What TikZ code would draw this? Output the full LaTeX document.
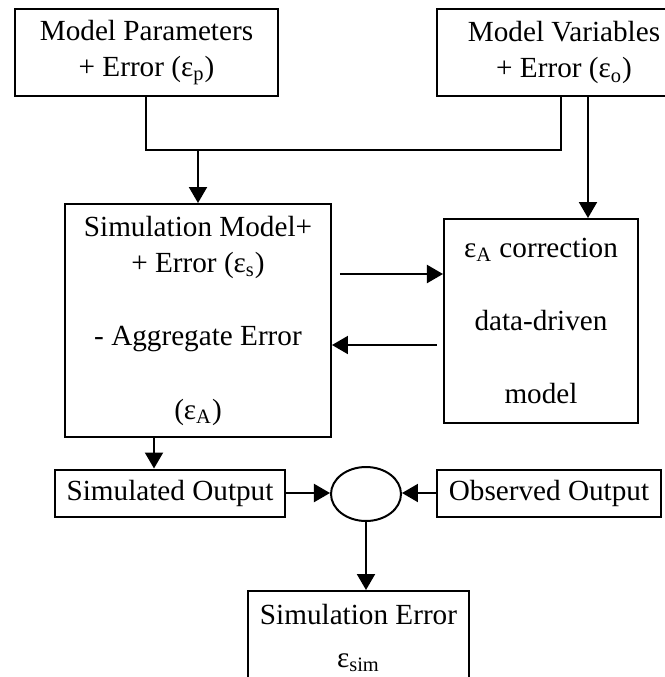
\documentclass[tikz,border=0pt]{standalone}
\usepackage{fontspec}
\setmainfont{Liberation Serif}
\usetikzlibrary{arrows.meta, positioning, shapes.geometric}
\tikzset{
  every picture/.style={line width=1pt},
  box/.style={draw=black, align=center, inner sep=0pt, font=\fontsize{14.6}{18.3}\selectfont},
  arrow/.style={-{Triangle[length=8pt, width=9pt]}, draw=black},
}
\newcommand{\eps}[1]{ε\textsubscript{#1}}

\begin{document}
\begin{tikzpicture}[x=0.5pt, y=-0.5pt,
  top/.style={box, minimum width=#1, minimum height=43.5pt},
  io/.style={box, minimum width=#1, minimum height=23.5pt},
  sum/.style={draw=black, ellipse, inner sep=0pt, minimum width=35pt, minimum height=27pt}]
  \useasboundingbox (0,0) rectangle (665,677);
  \node[top=131.5pt] (mp) at (146.5,52.5) {Model Parameters\\+ Error (\eps{p})};
  \node[top=127pt] (mv) at (564,52.5) {Model Variables\\+ Error (\eps{o})};
  \node[box, minimum width=133pt, minimum height=116.5pt] (sim) at (198,320.5)
    {Simulation Model+\\+ Error (\eps{s})\\[\baselineskip]- Aggregate Error\\[\baselineskip](\eps{A})};
  \node[box, minimum width=97pt, minimum height=102pt] (corr) at (541,321)
    {\eps{A} correction\\[\baselineskip]data-driven\\[\baselineskip]model};
  \node[io=115pt] (simout) at (170,493) {Simulated Output};
  \node[sum] (cmp) at (366,494) {};
  \node[io=112pt] (obsout) at (549,493) {Observed Output};
  \node[box, minimum width=110.5pt, minimum height=47pt] (simerr) at (358.5,638)
    {Simulation Error\\[3.5pt]\eps{sim}};
  % inputs
  \coordinate (busL) at (146.5,150);
  \coordinate (busR) at (561,150);
  \draw (mp.south) -- (busL) -- (busR) -- (busR |- mv.south);
  \draw[arrow] (busL -| sim.north) -- (sim.north);
  \draw[arrow] ([xshift=12pt]mv.south) -- ([xshift=12pt]mv.south |- corr.north);
  % correction loop
  \coordinate (fw) at (340,274);
  \coordinate (bw) at (437,345);
  \draw[arrow] (fw) -- (fw -| corr.west);
  \draw[arrow] (bw) -- (bw -| sim.east);
  % outputs
  \draw[arrow] ([xshift=-8pt]simout.north |- sim.south) -- ([xshift=-8pt]simout.north);
  \draw[arrow] (simout.east) -- (simout.east -| cmp.west);
  \draw[arrow] (obsout.west) -- (obsout.west -| cmp.east);
  \draw[arrow] (cmp.south) -- (cmp.south |- simerr.north);
\end{tikzpicture}
\end{document}
